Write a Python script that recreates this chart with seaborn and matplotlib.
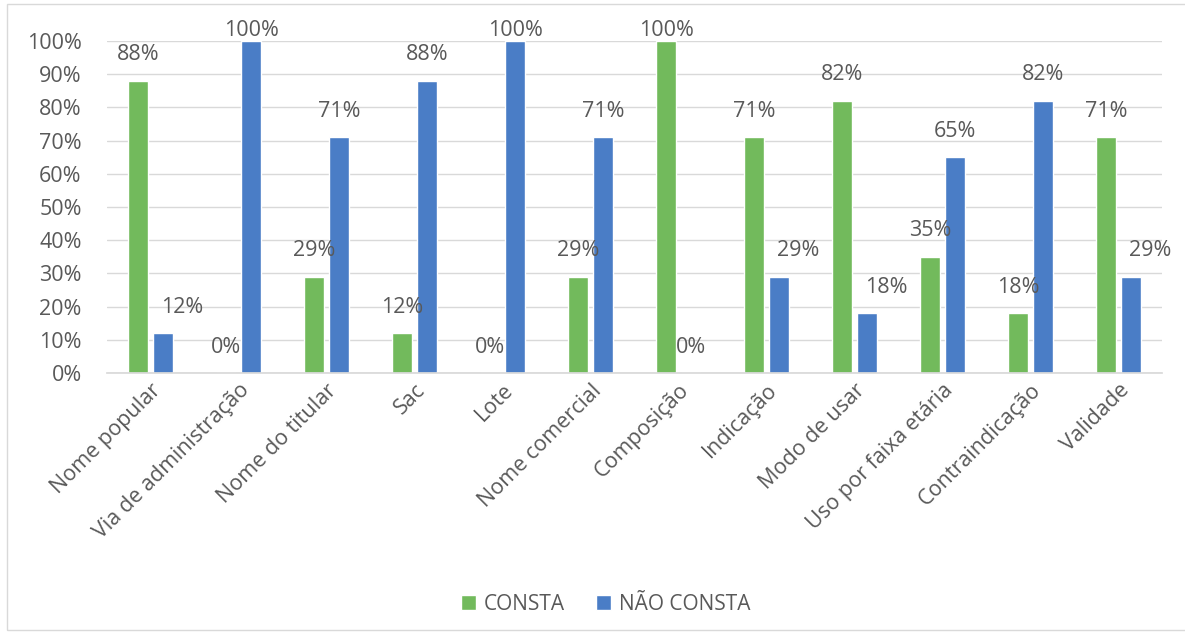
import matplotlib
matplotlib.use("Agg")
import matplotlib.pyplot as plt
import seaborn as sns
import pandas as pd
from matplotlib.patches import Rectangle
from matplotlib.ticker import PercentFormatter

categories = ["Nome popular", "Via de administração", "Nome do titular", "Sac", "Lote",
              "Nome comercial", "Composição", "Indicação", "Modo de usar",
              "Uso por faixa etária", "Contraindicação", "Validade"]
consta = [88, 0, 29, 12, 0, 29, 100, 71, 82, 35, 18, 71]
nao_consta = [12, 100, 71, 88, 100, 71, 0, 29, 18, 65, 82, 29]
series_names = ["CONSTA", "NÃO CONSTA"]
colors = ["#72BA5C", "#4A7DC6"]

df = pd.DataFrame({
    "cat": categories * 2,
    "serie": [series_names[0]] * len(categories) + [series_names[1]] * len(categories),
    "val": [v / 100 for v in consta] + [v / 100 for v in nao_consta],
})

sns.set_theme(style="white")
plt.rcParams["font.family"] = ["Open Sans", "DejaVu Sans"]
txt = "#595959"
fs = 15.5

fig = plt.figure(figsize=(11.85, 6.36), dpi=100)
ax = fig.add_axes([0.090, 0.4135, 0.891, 0.522])
sns.barplot(data=df, x="cat", y="val", hue="serie", palette=colors, width=0.568,
            gap=0.2, ax=ax, saturation=1, order=categories, hue_order=series_names,
            legend=True)

ax.set_ylim(0, 1)
ax.set_xlim(-0.5, len(categories) - 0.5)
ax.set_yticks([i / 10 for i in range(11)])
ax.yaxis.set_major_formatter(PercentFormatter(1.0, decimals=0))
ax.grid(axis="y", color="#D9D9D9", linewidth=1)
ax.set_axisbelow(True)
for s in ["top", "right", "left"]:
    ax.spines[s].set_visible(False)
ax.spines["bottom"].set_color("#D9D9D9")
ax.set_xlabel("")
ax.set_ylabel("")
ax.tick_params(axis="y", labelsize=fs, colors=txt, length=0, pad=18)
ax.tick_params(axis="x", labelsize=fs, colors=txt, length=0, pad=5)
plt.setp(ax.get_xticklabels(), rotation=45, ha="right", rotation_mode="anchor")

for si, cont in enumerate(ax.containers):
    for bar in cont:
        h = bar.get_height()
        y = min(h + 0.078, 1.033)
        x = bar.get_x() + bar.get_width() / 2
        # in the original, short blue-bar labels were nudged to the right
        if si == 1 and 0 < h < 0.3:
            x += 0.22
        ax.text(x, y, f"{round(h * 100):d}%",
                ha="center", va="center", fontsize=fs, color=txt, clip_on=False)

leg = ax.legend(loc="center", bbox_to_anchor=(606 / 1185, 0.05), bbox_transform=fig.transFigure,
                ncol=2, frameon=False, fontsize=fs - 0.5, handlelength=0.7, handleheight=0.7,
                columnspacing=1.5, handletextpad=0.4)
for t in leg.get_texts():
    t.set_color(txt)

fig.patches.append(Rectangle((7 / 1185, 6 / 636), 1.0, 626 / 636, transform=fig.transFigure,
                             fill=False, edgecolor="#D9D9D9", linewidth=1))

fig.savefig("out.png", dpi=100)
